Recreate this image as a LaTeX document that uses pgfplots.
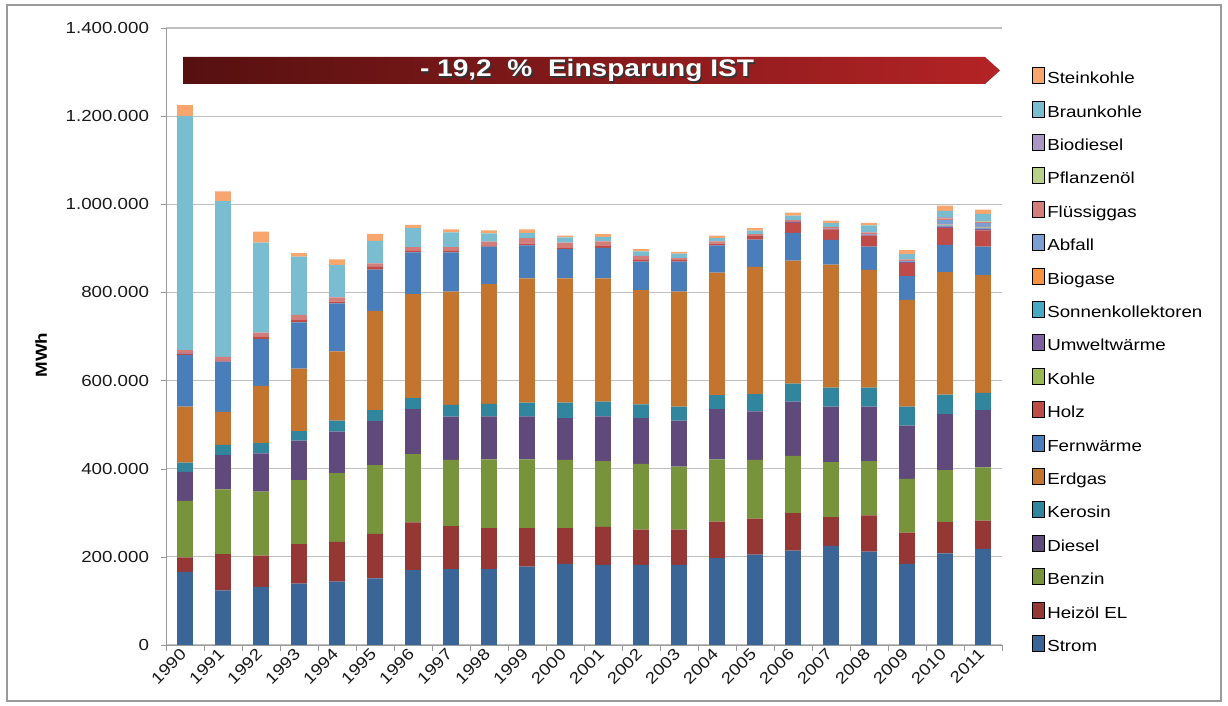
\documentclass[border=0pt]{standalone}
\usepackage{fontspec}
\setmainfont[FakeStretch=1.17]{Liberation Sans}
\usepackage{pgfplots}
\usepackage{pgfplotstable}
\pgfplotsset{compat=1.18}

\definecolor{cStrom}{HTML}{3B6497}
\definecolor{cHeiz}{HTML}{953735}
\definecolor{cBenzin}{HTML}{77933C}
\definecolor{cDiesel}{HTML}{604A7B}
\definecolor{cKerosin}{HTML}{31859C}
\definecolor{cErdgas}{HTML}{C3752F}
\definecolor{cFern}{HTML}{4A7EBB}
\definecolor{cHolz}{HTML}{BE4B48}
\definecolor{cKohle}{HTML}{98B954}
\definecolor{cUmwelt}{HTML}{7D60A0}
\definecolor{cSonnen}{HTML}{46AAC5}
\definecolor{cBiogase}{HTML}{F69240}
\definecolor{cAbfall}{HTML}{7C9FD3}
\definecolor{cFluess}{HTML}{D47E7C}
\definecolor{cPflanz}{HTML}{B7D18A}
\definecolor{cBiodiesel}{HTML}{A896C4}
\definecolor{cBraun}{HTML}{7BBDD0}
\definecolor{cStein}{HTML}{F8A56E}
\definecolor{cGrid}{HTML}{BFBFBF}
\definecolor{cAxis}{HTML}{9A9A9A}
\definecolor{cBanL}{HTML}{561010}
\definecolor{cBanR}{HTML}{B42325}

% values in 1000 MWh
\pgfplotstableread{
yr Strom Heiz Benzin Diesel Kerosin Erdgas Fern Holz Kohle Umwelt Sonnen Biogase Abfall Fluess Pflanz Biodiesel Braun Stein
0  166 33 128  66 21 127 117  3 0 2 0 0  0 6 0 0 531 25
1  124 82 147  78 23  75 114  3 0 0 0 0  0 8 0 0 353 22
2  132 71 145  87 23 130 106  6 0 0 0 0  0 9 0 0 204 25
3  139 90 145  90 21 142 105  5 0 0 0 0  0 12 0 0 132 8
4  144 90 156  94 25 157 109  4 0 0 0 0  0 10 0 0 73 13
5  151 101 156 100 25 225 94  6 0 0 0 0  0 8 0 0 51 16
6  170 108 155 102 25 236 95  3 0 0 0 0  0 9 0 0 43 7
7  172 98 150  98 27 257 89  3 0 0 0 0  0 9 0 0 33 7
8  172 93 156  98 28 272 85  3 0 0 0 0  0 8 0 0 19 7
9  178 87 156  98 31 282 75  4 0 0 0 0  0 12 0 0 12 8
10 184 81 155  95 35 282 66  4 0 0 0 0  0 11 0 0 12 4
11 182 86 149 102 33 280 69  4 0 0 0 0  0 11 0 0 10 6
12 182 80 149 104 31 259 65  4 0 0 0 0  0 9 0 0 10 5
13 182 80 143 104 32 261 68  3 0 0 0 0  0 5 0 0 10 4
14 197 83 141 114 32 278 62  4 0 0 0 0  0 5 0 0 7 6
15 205 82 133 110 39 289 62  8 0 0 0 0  0 4 0 0 8 6
16 214 85 130 123 41 279 63 23 0 2 0 0  0 4 0 0 10 7
17 225 65 125 126 43 279 56 24 0 2 0 0  0 4 0 0 8 6
18 212 82 123 124 43 267 53 25 0 2 0 0  1 4 0 0 16 6
19 184 71 122 121 43 242 54 30 0 2 0 0  2 4 0 0 12 9
20 208 71 118 127 44 278 62 38 0 4 2 2 10 4 1 1 15 12
21 218 64 121 130 39 267 65 37 0 4 2 2  8 3 1 0 17 10
}\datatable

\tikzset{sq/.style={legend image code/.code={\fill[##1,draw=none] (0pt,-2.5pt) rectangle (5pt,2.5pt);}}}

\begin{document}
\begin{tikzpicture}
\path[use as bounding box] (0,0) rectangle (614pt,353pt);
\begin{axis}[
  at={(83pt,30.5pt)}, anchor=south west,
  scale only axis, width=418pt, height=308.5pt,
  ybar stacked, bar width=7.8pt,
  xmin=-0.5, xmax=21.5, ymin=0, ymax=1400000,
  xtick={0,...,21},
  xticklabels={1990,1991,1992,1993,1994,1995,1996,1997,1998,1999,2000,2001,2002,2003,2004,2005,2006,2007,2008,2009,2010,2011},
  minor xtick={-0.5,0.5,...,21.5},
  ytick={0,200000,400000,600000,800000,1000000,1200000,1400000},
  yticklabels={0,200.000,400.000,600.000,800.000,1.000.000,1.200.000,1.400.000},
  scaled y ticks=false,
  axis x line*=bottom, axis y line*=left,
  axis line style={cAxis},
  tick style={cAxis},
  major x tick style={draw=none},
  minor tick length=3pt, major tick length=2.5pt,
  tick align=outside,
  ymajorgrids, grid style={cGrid, line width=0.6pt},
  tick label style={font=\fontsize{8}{9}\selectfont, text=black!90},
  xticklabel style={rotate=45, anchor=east, inner sep=1pt},
  yticklabel style={xshift=-2.5pt},
  reverse legend,
  legend cell align=left,
  legend style={at={(1.036,0.937)}, anchor=north west, draw=none, fill=none,
    font=\fontsize{8}{9}\selectfont, row sep=5.5pt, inner sep=0pt,
    nodes={text height=6pt, text depth=2pt, inner sep=1pt}},
]
\addplot[fill=cStrom, draw=none, sq] table[x=yr, y expr=\thisrow{Strom}*1000] {\datatable}; \addlegendentry{Strom}
\addplot[fill=cHeiz, draw=none, sq] table[x=yr, y expr=\thisrow{Heiz}*1000] {\datatable}; \addlegendentry{Heizöl EL}
\addplot[fill=cBenzin, draw=none, sq] table[x=yr, y expr=\thisrow{Benzin}*1000] {\datatable}; \addlegendentry{Benzin}
\addplot[fill=cDiesel, draw=none, sq] table[x=yr, y expr=\thisrow{Diesel}*1000] {\datatable}; \addlegendentry{Diesel}
\addplot[fill=cKerosin, draw=none, sq] table[x=yr, y expr=\thisrow{Kerosin}*1000] {\datatable}; \addlegendentry{Kerosin}
\addplot[fill=cErdgas, draw=none, sq] table[x=yr, y expr=\thisrow{Erdgas}*1000] {\datatable}; \addlegendentry{Erdgas}
\addplot[fill=cFern, draw=none, sq] table[x=yr, y expr=\thisrow{Fern}*1000] {\datatable}; \addlegendentry{Fernwärme}
\addplot[fill=cHolz, draw=none, sq] table[x=yr, y expr=\thisrow{Holz}*1000] {\datatable}; \addlegendentry{Holz}
\addplot[fill=cKohle, draw=none, sq] table[x=yr, y expr=\thisrow{Kohle}*1000] {\datatable}; \addlegendentry{Kohle}
\addplot[fill=cUmwelt, draw=none, sq] table[x=yr, y expr=\thisrow{Umwelt}*1000] {\datatable}; \addlegendentry{Umweltwärme}
\addplot[fill=cSonnen, draw=none, sq] table[x=yr, y expr=\thisrow{Sonnen}*1000] {\datatable}; \addlegendentry{Sonnenkollektoren}
\addplot[fill=cBiogase, draw=none, sq] table[x=yr, y expr=\thisrow{Biogase}*1000] {\datatable}; \addlegendentry{Biogase}
\addplot[fill=cAbfall, draw=none, sq] table[x=yr, y expr=\thisrow{Abfall}*1000] {\datatable}; \addlegendentry{Abfall}
\addplot[fill=cFluess, draw=none, sq] table[x=yr, y expr=\thisrow{Fluess}*1000] {\datatable}; \addlegendentry{Flüssiggas}
\addplot[fill=cPflanz, draw=none, sq] table[x=yr, y expr=\thisrow{Pflanz}*1000] {\datatable}; \addlegendentry{Pflanzenöl}
\addplot[fill=cBiodiesel, draw=none, sq] table[x=yr, y expr=\thisrow{Biodiesel}*1000] {\datatable}; \addlegendentry{Biodiesel}
\addplot[fill=cBraun, draw=none, sq] table[x=yr, y expr=\thisrow{Braun}*1000] {\datatable}; \addlegendentry{Braunkohle}
\addplot[fill=cStein, draw=none, sq] table[x=yr, y expr=\thisrow{Stein}*1000] {\datatable}; \addlegendentry{Steinkohle}
\end{axis}
% y label
\node[rotate=90, font=\fontsize{8}{9}\selectfont\bfseries] at (20.5pt,175.5pt) {MWh};
% banner
\shade[left color=cBanL, right color=cBanR] (91.5pt,311pt) -- (492.5pt,311pt) -- (500pt,317.75pt) -- (492.5pt,324.5pt) -- (91.5pt,324.5pt) -- cycle;
\node[text=black!80, font=\fontsize{12}{14}\selectfont\bfseries] at (294.3pt,317pt) {-~19,2~~\%~~Einsparung IST};
\node[text=white, font=\fontsize{12}{14}\selectfont\bfseries] at (293.5pt,317.75pt) {-~19,2~~\%~~Einsparung IST};
% frame
\draw[cAxis, line width=0.8pt] (3.5pt,2.5pt) rectangle (610.5pt,350.5pt);
\end{tikzpicture}
\end{document}
